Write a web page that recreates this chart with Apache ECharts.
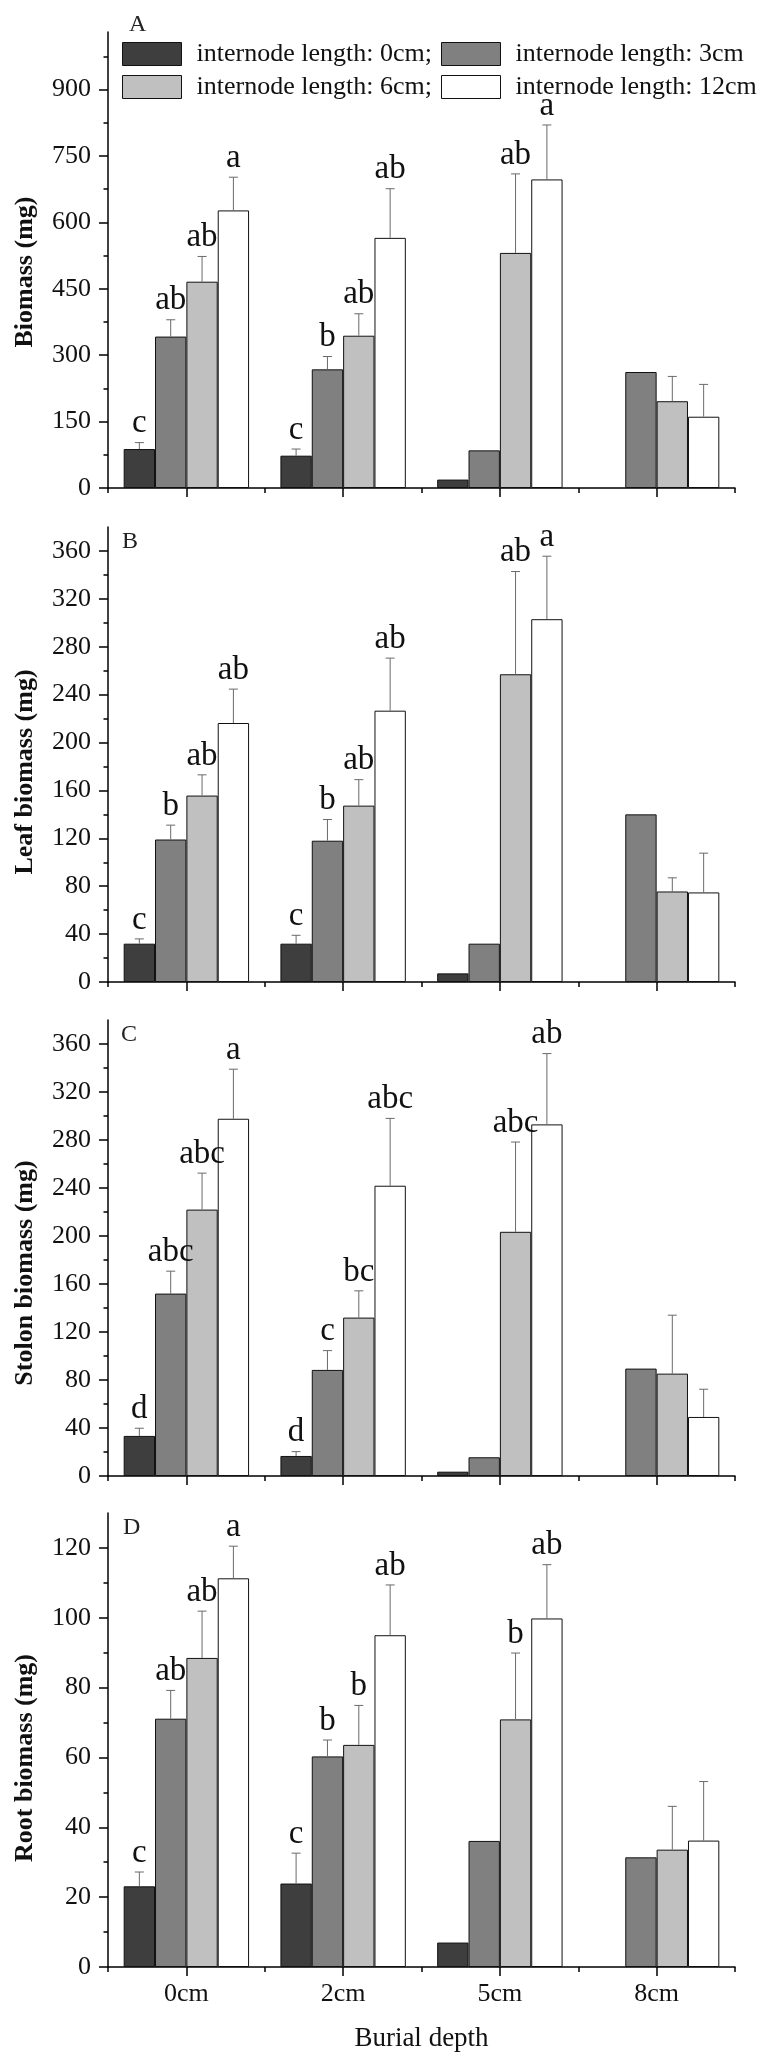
<!DOCTYPE html>
<html>
<head>
<meta charset="utf-8">
<script src="https://cdn.jsdelivr.net/npm/echarts@6/dist/echarts.min.js"></script>
<style>
html,body{margin:0;padding:0;background:#fff;}
#chart{width:769px;height:2070px;}
</style>
</head>
<body>
<div id="chart"></div>
<script>
// ---------- data ----------
const categories = ['0cm', '2cm', '5cm', '8cm'];
const legendLabels = ['internode length: 0cm;', 'internode length: 3cm', 'internode length: 6cm;', 'internode length: 12cm'];

// rows: internode length 0, 3, 6, 12 cm ; columns: burial depth 0, 2, 5, 8 cm
const totalMeans = [
  [88, 73, 19, null],
  [342, 268, 85, 262],
  [466, 344, 531, 196],
  [627, 565, 697, 161]
];
const totalErrs = [
  [14.5, 15, null, null],
  [38, 29, null, null],
  [57, 49.5, 178.5, 56],
  [75, 111, 123, 73]
];
const totalLetters = [
  ['c', 'c', '', ''],
  ['ab', 'b', '', ''],
  ['ab', 'ab', 'ab', ''],
  ['a', 'ab', 'a', '']
];
const totalTicks = [0, 150, 300, 450, 600, 750, 900];
const totalMinorTicks = [75, 225, 375, 525, 675, 825, 975];

const leafMeans = [
  [32, 32, 7.2, null],
  [119, 118, 32, 140],
  [155.7, 147.3, 257, 75.6],
  [216.3, 226.6, 303, 74.8]
];
const leafErrs = [
  [4, 7, null, null],
  [12, 17.7, null, null],
  [17.3, 21.7, 85.8, 11.4],
  [28.3, 43.9, 52.6, 32.8]
];
const leafLetters = [
  ['c', 'c', '', ''],
  ['b', 'b', '', ''],
  ['ab', 'ab', 'ab', ''],
  ['ab', 'ab', 'a', '']
];

const stolonMeans = [
  [33.4, 16.7, 3.6, null],
  [152, 88.4, 15.6, 89.5],
  [222, 132, 203.5, 85.3],
  [297.7, 241.9, 293, 49.2]
];
const stolonErrs = [
  [6.4, 3.6, null, null],
  [18.7, 16.1, null, null],
  [30.4, 22.3, 74.8, 48.7],
  [41.3, 56.1, 59, 23.1]
];
const stolonLetters = [
  ['d', 'd', '', ''],
  ['abc', 'c', '', ''],
  ['abc', 'bc', 'abc', ''],
  ['a', 'abc', 'ab', '']
];
const leafStolonTicks = [0, 40, 80, 120, 160, 200, 240, 280, 320, 360];
const leafStolonMinorTicks = [20, 60, 100, 140, 180, 220, 260, 300, 340];

const rootMeans = [
  [23.1, 23.9, 7.0, null],
  [71.1, 60.3, 36.1, 31.4],
  [88.5, 63.6, 70.9, 33.6],
  [111.3, 95, 99.8, 36.2]
];
const rootErrs = [
  [4.1, 8.7, null, null],
  [8.1, 4.7, null, null],
  [13.4, 11.3, 19, 12.4],
  [9.2, 14.4, 15.4, 16.9]
];
const rootLetters = [
  ['c', 'c', '', ''],
  ['ab', 'b', '', ''],
  ['ab', 'b', 'b', ''],
  ['a', 'ab', 'ab', '']
];
const rootTicks = [0, 20, 40, 60, 80, 100, 120];
const rootMinorTicks = [10, 30, 50, 70, 90, 110];

const axisTitles = ['Biomass (mg)', 'Leaf biomass (mg)', 'Stolon biomass (mg)', 'Root biomass (mg)'];
const panelLabels = ['A', 'B', 'C', 'D'];
const axisMaxes = [1030, 380, 380, 130];

// ---------- layout & style ----------
const FONT = '"Liberation Serif", "Times New Roman", serif';
const barColors = ['#3e3e3e', '#808080', '#c0c0c0', '#ffffff'];
const gridTops = [32, 527, 1020, 1513];
const gridHeights = [456, 455, 456, 454];
const titleCenters = [272, 772, 1273, 1758];
const panelLabelPos = [[129, 25], [122, 542], [121, 1035], [123, 1528]];

const panels = [
  { means: totalMeans, errs: totalErrs, letters: totalLetters, ticks: totalTicks, minors: totalMinorTicks },
  { means: leafMeans, errs: leafErrs, letters: leafLetters, ticks: leafStolonTicks, minors: leafStolonMinorTicks },
  { means: stolonMeans, errs: stolonErrs, letters: stolonLetters, ticks: leafStolonTicks, minors: leafStolonMinorTicks },
  { means: rootMeans, errs: rootErrs, letters: rootLetters, ticks: rootTicks, minors: rootMinorTicks }
];

const lineStyle = { color: '#000', width: 1.5 };

const grid = [], xAxis = [], yAxis = [], series = [];

panels.forEach((p, i) => {
  grid.push({ left: 108, right: 34, top: gridTops[i], height: gridHeights[i], containLabel: false, outerBoundsMode: 'none' });

  xAxis.push({
    type: 'category', gridIndex: i, data: categories, position: 'bottom', boundaryGap: true,
    axisLine: { show: true, onZero: false, lineStyle },
    axisTick: { show: true, length: 5, lineStyle },
    axisLabel: { show: i === 3, fontSize: 26, fontFamily: FONT, color: '#111', margin: 14 },
    splitLine: { show: false },
    name: i === 3 ? 'Burial depth' : '', nameLocation: 'middle', nameGap: 58,
    nameTextStyle: { fontSize: 27, fontFamily: FONT, color: '#111' }
  });
  xAxis.push({
    type: 'category', gridIndex: i, data: categories, position: 'bottom', boundaryGap: true,
    axisLine: { show: false, onZero: false },
    axisTick: { show: true, alignWithLabel: true, length: 9, lineStyle },
    axisLabel: { show: false }, splitLine: { show: false }
  });

  yAxis.push({
    type: 'value', gridIndex: i, min: 0, max: axisMaxes[i], position: 'left',
    axisLine: { show: true, lineStyle },
    axisTick: { show: true, length: 9, customValues: p.ticks, lineStyle },
    axisLabel: { customValues: p.ticks, fontSize: 26, fontFamily: FONT, color: '#111', margin: 17 },
    splitLine: { show: false }
  });
  yAxis.push({
    type: 'value', gridIndex: i, min: 0, max: axisMaxes[i], position: 'left',
    axisLine: { show: false },
    axisTick: { show: true, length: 4.5, customValues: p.minors, lineStyle },
    axisLabel: { show: false }, splitLine: { show: false }
  });

  p.means.forEach((row, s) => {
    series.push({
      type: 'bar', name: legendLabels[s], xAxisIndex: 2 * i, yAxisIndex: 2 * i,
      data: row, barGap: '0%', barCategoryGap: '20%',
      itemStyle: { color: barColors[s], borderColor: '#111', borderWidth: 1 },
      emphasis: { disabled: true }, silent: true
    });
  });

  const items = [];
  p.errs.forEach((row, s) => {
    row.forEach((e, c) => {
      if (e != null && p.means[s][c] != null) {
        items.push({ s, c, mean: p.means[s][c], err: e, letter: p.letters[s][c] });
      }
    });
  });

  series.push({
    type: 'custom', xAxisIndex: 2 * i, yAxisIndex: 2 * i, silent: true, clip: false, z: 5,
    data: items.map(it => [it.c, it.mean + it.err]),
    encode: { x: 0, y: 1 },
    renderItem: function (params, api) {
      const it = items[params.dataIndex];
      const band = api.size([1, 0])[0];
      const bw = band * 0.2;
      const base = api.coord([it.c, it.mean]);
      const x = base[0] + (it.s - 1.5) * bw;
      const top = api.coord([it.c, it.mean + it.err])[1];
      const children = [
        { type: 'line', shape: { x1: x, y1: base[1], x2: x, y2: top }, style: { stroke: '#6a6a6a', lineWidth: 1 } },
        { type: 'line', shape: { x1: x - 4.5, y1: top, x2: x + 4.5, y2: top }, style: { stroke: '#6a6a6a', lineWidth: 1 } }
      ];
      if (it.letter) {
        children.push({
          type: 'text', x: x, y: top - 19,
          style: { text: it.letter, fontSize: 33, fontFamily: FONT, fill: '#111', align: 'center', verticalAlign: 'middle' }
        });
      }
      return { type: 'group', children };
    }
  });
});

const legendPos = [[122, 41], [441, 41], [122, 74], [441, 74]];
const legend = legendLabels.map((name, k) => ({
  data: [name], left: legendPos[k][0], top: legendPos[k][1], padding: 0,
  itemWidth: 59, itemHeight: 23, icon: 'rect', selectedMode: false, itemGap: 0,
  itemStyle: { borderColor: '#111', borderWidth: 1 },
  textStyle: { fontSize: 26, fontFamily: FONT, color: '#111', padding: [0, 0, 0, 10] }
}));

const graphic = [];
axisTitles.forEach((t, i) => {
  graphic.push({
    type: 'text', x: 25, y: titleCenters[i], rotation: Math.PI / 2,
    style: { text: t, fontSize: 26, fontWeight: 'bold', fontFamily: FONT, fill: '#111', align: 'center', verticalAlign: 'middle' }
  });
  graphic.push({
    type: 'text', x: panelLabelPos[i][0], y: panelLabelPos[i][1],
    style: { text: panelLabels[i], fontSize: 24, fontFamily: FONT, fill: '#222', align: 'left', verticalAlign: 'middle' }
  });
});

const chart = echarts.init(document.getElementById('chart'), null, { renderer: 'canvas' });
chart.setOption({
  animation: false,
  backgroundColor: '#fff',
  grid, xAxis, yAxis, series, legend, graphic
});
</script>
</body>
</html>
